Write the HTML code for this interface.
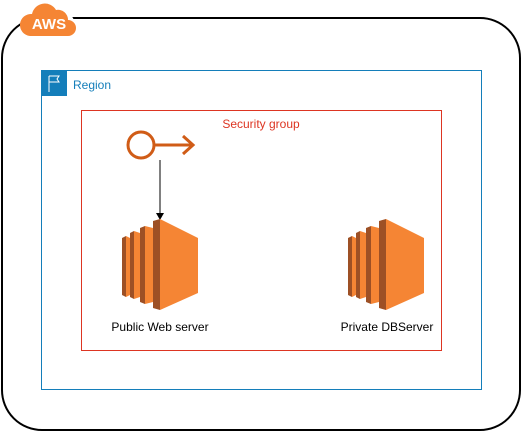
<!DOCTYPE html>
<html><head><style>body{margin:0;background:#fff}</style></head><body>
<svg width="522" height="432" xmlns="http://www.w3.org/2000/svg" font-family="Liberation Sans, sans-serif">
<defs>
<g id="ec2">
<polygon points="122,238 126,236 126,297 122,295" fill="#9D5025"/>
<polygon points="126,236 130,238 130,295 126,297" fill="#F58534"/>
<polygon points="130,233 134,231 134,299 130,297" fill="#9D5025"/>
<polygon points="134,231 140,233 140,297 134,299" fill="#F58534"/>
<polygon points="140,228 145,226 145,304 140,302" fill="#9D5025"/>
<polygon points="145,226 153,228 153,302 145,304" fill="#F58534"/>
<polygon points="153,221 160,219 160,310 153,308" fill="#9D5025"/>
<polygon points="160,219 198,238 198,293 160,310" fill="#F58534"/>
</g>
</defs>
<rect x="2" y="18" width="518" height="412" rx="40" fill="none" stroke="#000" stroke-width="2"/>
<g>
<ellipse cx="48" cy="22" rx="26" ry="14" fill="#fff"/>
<path d="M30,36 h38 a8,8 0 0 0 0,-16 a10,10 0 0 0 -12,-10 a13,13 0 0 0 -24,4 a10,10 0 0 0 -2,22z" fill="#F58534"/>
<text x="49" y="29" font-size="15" font-weight="bold" fill="#fff" text-anchor="middle">AWS</text>
</g>
<rect x="41.5" y="70.5" width="440" height="319" fill="none" stroke="#147EBA"/>
<rect x="41" y="70" width="26" height="26" fill="#147EBA"/>
<path d="M49,92 V76 M49,76 h10 l-2,3 l2,3 h-10" fill="none" stroke="#fff" stroke-width="1"/>
<text x="73" y="89" font-size="12" fill="#147EBA">Region</text>
<rect x="81.5" y="110.5" width="360" height="240" fill="none" stroke="#DD3522"/>
<text x="261" y="128" font-size="12" fill="#DD3522" text-anchor="middle">Security group</text>
<circle cx="141" cy="145" r="13" fill="none" stroke="#D05C17" stroke-width="3"/>
<path d="M154,145 H193 M183,136 L193,145 L183,154" fill="none" stroke="#D05C17" stroke-width="3"/>
<line x1="160" y1="160" x2="160" y2="214" stroke="#000"/>
<polygon points="156,213 164,213 160,220" fill="#000"/>
<use href="#ec2"/>
<use href="#ec2" x="226"/>
<text x="160" y="331" font-size="12" text-anchor="middle">Public Web server</text>
<text x="387" y="331" font-size="12" text-anchor="middle">Private DBServer</text>
</svg>
</body></html>
